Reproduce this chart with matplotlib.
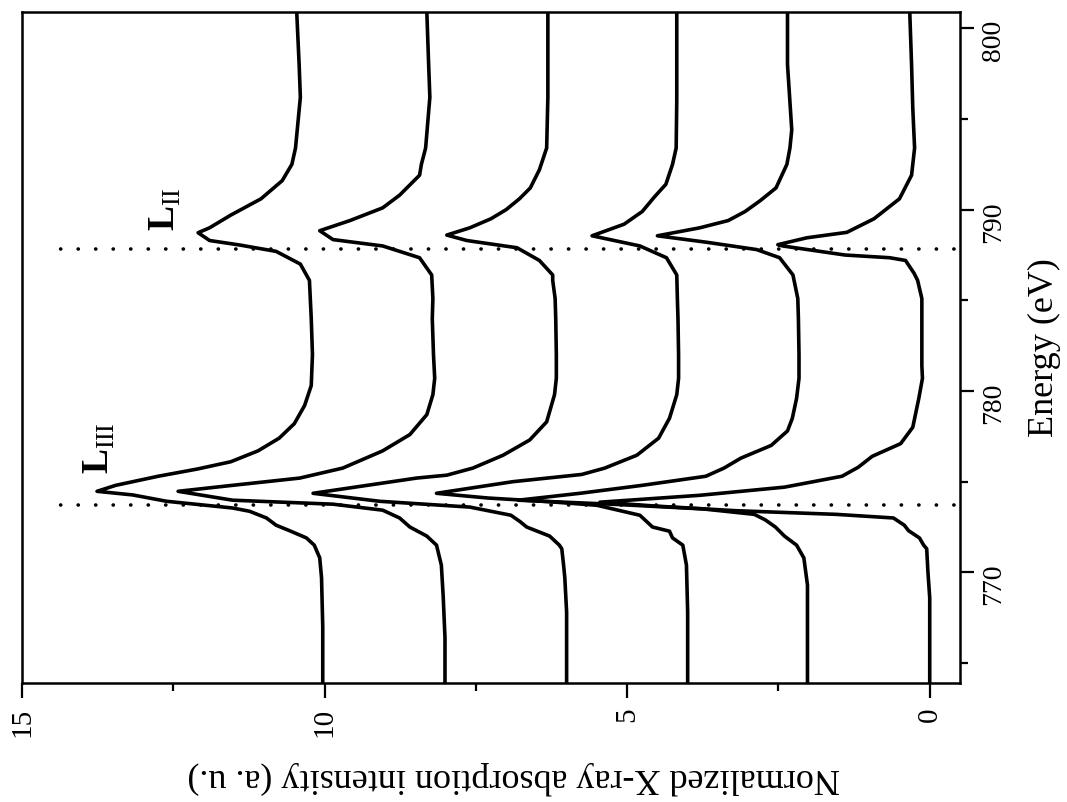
import numpy as np
import matplotlib
matplotlib.use('Agg')
import matplotlib.pyplot as plt

plt.rcParams['font.family'] = 'Liberation Serif'
plt.rcParams['mathtext.fontset'] = 'custom'
plt.rcParams['mathtext.rm'] = 'Liberation Serif'
plt.rcParams['mathtext.bf'] = 'Liberation Serif:bold'

# Mn L-edge spectra, stacked with offsets of 2 (energy in eV, intensity in a.u.)
e_a = [763.9, 768.6, 770.05, 771.3, 771.5, 771.9, 772.3, 772.6, 773.0, 773.2, 773.4, 773.65, 773.87,
       774.25, 774.7, 775.3, 775.8, 776.4, 777.1, 778.0, 779.6, 780.7, 781.4, 784.2, 785.1, 786.1,
       786.5, 787.2, 787.35, 787.5, 788.0, 788.07, 788.45, 788.75, 789.5, 790.6, 791.9, 793.4,
       795.6, 798.0, 800.9]
i_a = [0.0, 0.0, 0.03, 0.05, 0.1, 0.17, 0.35, 0.42, 0.6, 1.55, 3.2, 4.5, 5.45,
       3.8, 2.4, 1.45, 1.18, 0.95, 0.48, 0.28, 0.18, 0.12, 0.13, 0.13, 0.13, 0.2,
       0.26, 0.4, 0.66, 1.4, 2.43, 2.51, 2.03, 1.37, 0.92, 0.5, 0.3, 0.25,
       0.28, 0.3, 0.33]

e_b = [763.9, 769.3, 770.8, 771.5, 772.0, 772.5, 772.9, 773.2, 773.5, 773.75, 773.98,
       774.36, 774.8, 775.3, 775.75, 776.3, 777.0, 777.8, 778.5, 779.6, 780.7, 782.0, 784.0, 785.1,
       786.4, 787.35, 787.8, 788.2, 788.56, 789.0, 789.4, 789.9, 790.5, 791.2, 792.5, 793.4, 794.4,
       798.0, 800.9]
i_b = [2.02, 2.02, 2.08, 2.2, 2.4, 2.55, 2.72, 2.9, 3.75, 5.2, 6.8,
       5.78, 4.75, 3.7, 3.4, 3.12, 2.62, 2.35, 2.27, 2.2, 2.16, 2.16, 2.17, 2.18,
       2.26, 2.48, 2.86, 3.68, 4.5, 3.8, 3.33, 3.05, 2.8, 2.54, 2.36, 2.31, 2.28,
       2.35, 2.35]

e_c = [763.9, 767.8, 770.4, 771.5, 771.9, 772.27, 772.5, 773.15, 773.7, 773.9, 774.1, 774.36,
       774.64, 775.0, 775.4, 775.75, 776.46, 777.4, 778.5, 779.8, 780.7, 782.0, 784.0, 785.1,
       786.4, 787.35, 788.0, 788.56, 789.2, 789.9, 790.7, 791.4, 792.5, 793.4, 796.0, 800.9]
i_c = [4.0, 4.0, 4.02, 4.08, 4.25, 4.3, 4.58, 4.79, 5.5, 6.3, 7.3, 8.15,
       7.6, 6.89, 5.75, 5.37, 4.84, 4.48, 4.3, 4.18, 4.15, 4.15, 4.16, 4.17,
       4.18, 4.35, 4.79, 5.58, 5.05, 4.75, 4.55, 4.36, 4.25, 4.19, 4.18, 4.18]

e_d = [763.9, 767.8, 769.7, 770.4, 771.3, 771.5, 772.0, 772.5, 772.8, 773.15, 773.6, 773.92, 774.36,
       774.9, 775.2, 775.36, 775.75, 776.46, 777.3, 778.3, 779.8, 780.7, 782.0, 784.0, 785.1,
       786.1, 786.4, 787.2, 787.9, 788.3, 788.6, 789.0, 789.5, 790.0, 790.6, 791.2, 792.2, 793.4,
       796.2, 800.9]
i_d = [6.0, 6.0, 6.03, 6.05, 6.08, 6.12, 6.28, 6.66, 6.77, 6.92, 7.6, 9.09, 10.19,
       9.09, 8.48, 7.98, 7.55, 7.05, 6.61, 6.33, 6.2, 6.17, 6.17, 6.18, 6.19,
       6.23, 6.23, 6.45, 6.82, 7.65, 7.98, 7.6, 7.25, 7.0, 6.78, 6.6, 6.45, 6.33,
       6.31, 6.31]

e_e = [763.9, 766.4, 768.7, 770.4, 771.5, 772.0, 772.5, 773.0, 773.43, 773.76, 773.98, 774.47,
       774.8, 775.2, 775.75, 776.7, 777.6, 778.7, 779.8, 780.7, 782.0, 784.0, 785.1, 786.4,
       787.35, 788.0, 788.35, 788.84, 789.4, 790.1, 790.8, 791.2, 791.9, 792.5, 793.4, 796.2,
       798.0, 800.9]
i_e = [8.01, 8.01, 8.04, 8.07, 8.15, 8.31, 8.59, 8.76, 9.04, 9.86, 11.52, 12.42,
       11.52, 10.41, 9.7, 9.04, 8.59, 8.31, 8.21, 8.18, 8.2, 8.22, 8.21, 8.23,
       8.43, 9.04, 9.86, 10.08, 9.58, 9.04, 8.76, 8.64, 8.43, 8.4, 8.33, 8.26,
       8.28, 8.31]

e_f = [763.9, 767.0, 769.7, 770.8, 771.5, 771.9, 772.3, 772.6, 773.0, 773.37, 773.55, 773.92,
       774.27, 774.47, 774.8, 775.3, 775.7, 776.1, 776.7, 777.4, 778.2, 779.2, 780.3, 782.0,
       784.0, 786.1, 787.0, 787.7, 788.05, 788.3, 788.73, 789.0, 789.7, 790.6, 791.6, 792.5,
       793.4, 796.2, 798.0, 800.9]
i_f = [10.03, 10.03, 10.05, 10.08, 10.17, 10.3, 10.58, 10.8, 10.96, 11.24, 11.52, 12.61,
       13.17, 13.76, 13.45, 12.75, 12.1, 11.55, 11.1, 10.75, 10.5, 10.33, 10.22, 10.2,
       10.22, 10.25, 10.4, 10.8, 11.4, 11.9, 12.09, 11.9, 11.55, 11.05, 10.7, 10.54,
       10.48, 10.4, 10.42, 10.46]

spectra = [(e_a, i_a), (e_b, i_b), (e_c, i_c), (e_d, i_d), (e_e, i_e), (e_f, i_f)]

edge_l3 = 773.7
edge_l2 = 787.85
guide_span = [-0.4, 14.6]

fig = plt.figure(figsize=(10.67, 8.03), dpi=100)
ax = fig.add_axes([0.0206, 0.1482, 0.8791, 0.8356])

# figure is drawn turned on its side: intensity runs right-to-left, energy upward
for e, i in spectra:
    ax.plot(i, e, color='black', lw=2.6, solid_joinstyle='round', solid_capstyle='round')

for edge in (edge_l3, edge_l2):
    ax.plot(guide_span, [edge, edge], color='black', lw=2.6,
            dashes=(0.05, 4.8), dash_capstyle='round')

ax.set_xlim(15, -0.5)
ax.set_ylim(763.9, 800.9)

ax.set_xticks([0, 5, 10, 15])
ax.set_xticks([2.5, 7.5, 12.5], minor=True)
ax.set_yticks([770, 780, 790, 800])
ax.set_yticks([765, 775, 785, 795], minor=True)
ax.yaxis.tick_right()

ax.tick_params(axis='x', which='major', direction='out', length=11, width=1.6,
               labelsize=21, labelrotation=90, pad=6)
ax.tick_params(axis='x', which='minor', direction='out', length=6, width=1.6)
ax.tick_params(axis='y', which='major', direction='out', length=10, width=1.6,
               labelsize=20, labelrotation=90, pad=5)
ax.tick_params(axis='y', which='minor', direction='out', length=6, width=1.6)
for s in ax.spines.values():
    s.set_linewidth(1.8)

ax.text(13.72, 776.9, r'$\mathbf{L}_{\mathrm{III}}$', rotation=90, fontsize=27,
        ha='center', va='center')
ax.text(12.63, 790.1, r'$\mathbf{L}_{\mathrm{II}}$', rotation=90, fontsize=27,
        ha='center', va='center')

fig.text(0.481, 0.032, 'Normalized X-ray absorption intensity (a. u.)', rotation=180,
         fontsize=26, ha='center', va='center')
fig.text(0.979, 0.567, 'Energy (eV)', rotation=90, fontsize=26, ha='center', va='center')

fig.savefig('out.png', dpi=100)
